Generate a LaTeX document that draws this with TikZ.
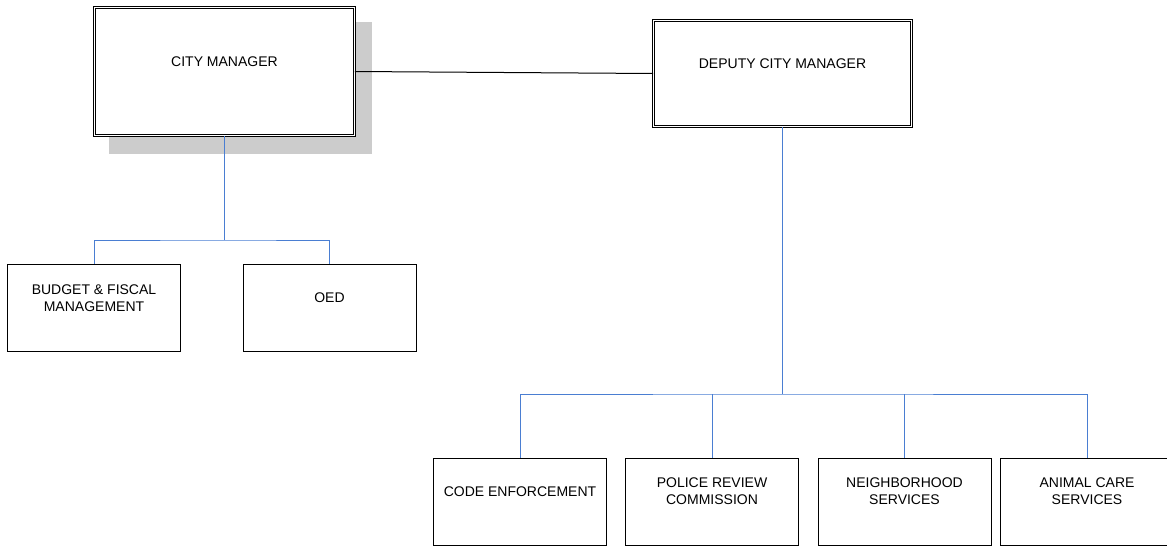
\documentclass[tikz,border=0pt]{standalone}
\usepackage{fontspec}
\setmainfont{Liberation Sans}
\definecolor{linkblue}{RGB}{74,126,210}
\definecolor{shadowgray}{RGB}{204,204,204}
\newcommand{\orglabel}[1]{\begin{tabular}{@{}c@{}}#1\end{tabular}}
\begin{document}
\begin{tikzpicture}[x=1pt,y=-1pt,
	   unit/.style={draw,line width=1pt,fill=white,inner sep=0pt,minimum width=173pt,minimum height=87pt,text height=0pt,text depth=10pt,font=\fontsize{14}{17}\selectfont},
	   head/.style={unit,double,line width=0.8pt,double distance=1.6pt},
	   link/.style={draw=linkblue,line width=1pt}]
	   \useasboundingbox (0,0) rectangle (1167,546);
	   \fill [shadowgray] (109,22) rectangle (372,154);
	   \node [head,minimum width=259.8pt,minimum height=127.8pt] (cm) at (224.5,71.5) {\orglabel{CITY MANAGER}};
	   \node [head,minimum width=257.8pt,minimum height=105.8pt] (dcm) at (782.5,73.5) {\orglabel{DEPUTY CITY MANAGER}};
	   \node [unit] (budget) at (94,308) {\orglabel{BUDGET \& FISCAL\\MANAGEMENT}};
	   \node [unit] (oed) at (329.5,308) {\orglabel{OED}};
	   \node [unit] (code) at (520,501.5) {\orglabel{CODE ENFORCEMENT}};
	   \node [unit] (police) at (712,501.5) {\orglabel{POLICE REVIEW\\COMMISSION}};
	   \node [unit] (hood) at (904.5,501.5) {\orglabel{NEIGHBORHOOD\\SERVICES}};
	   \node [unit] (animal) at (1087,501.5) {\orglabel{ANIMAL CARE\\SERVICES}};
	   \coordinate (cmjoin) at (224.5,240);
	   \coordinate (dcmjoin) at (782.5,394);
	   \draw [line width=1pt] (cm.east) -- (dcm.west);
	   \draw [link] (cm.south) -- (cmjoin);
	   \draw [link] (budget.north) |- (cmjoin) -| (oed.north);
	   \draw [link] (dcm.south) -- (dcmjoin);
	   \draw [link] (code.north) |- (dcmjoin) -| (animal.north);
	   \draw [link] (police.north) -- (police.north |- dcmjoin);
	   \draw [link] (hood.north) -- (hood.north |- dcmjoin);
\end{tikzpicture}
\end{document}
